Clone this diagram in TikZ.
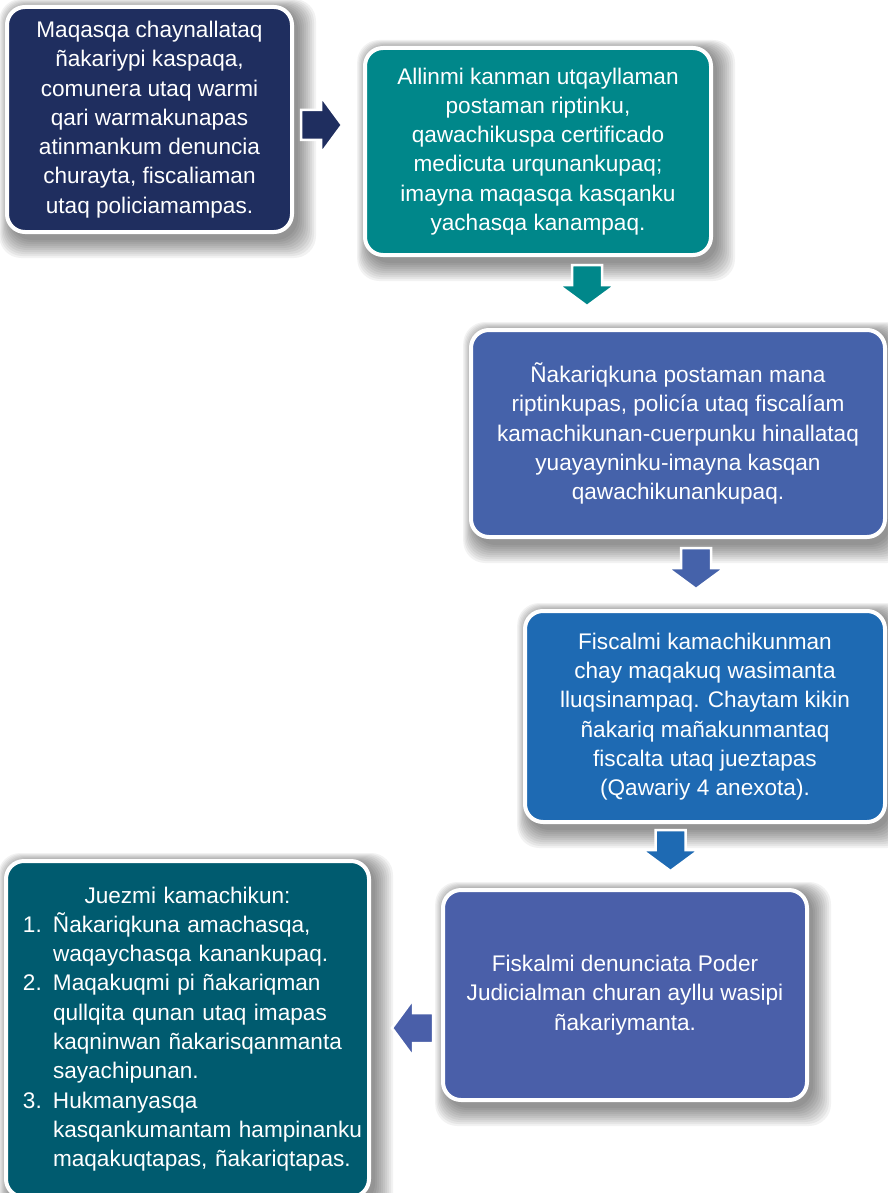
\documentclass[tikz,border=0pt]{standalone}
\usepackage{fontspec}
\setmainfont{Liberation Sans}
\usetikzlibrary{calc}
\pgfdeclarelayer{background}
\pgfsetlayers{background,main}
\definecolor{cNavy}{HTML}{1F2E5F}
\definecolor{cTeal}{HTML}{00878A}
\definecolor{cBlueA}{HTML}{4562AA}
\definecolor{cBlueB}{HTML}{1E6AB3}
\definecolor{cBlueC}{HTML}{4A5FA9}
\definecolor{cPetrol}{HTML}{005B6F}
\tikzset{
  box/.style={rounded corners=18pt, draw=white, line width=4pt, text=white,
    align=center, inner sep=0pt, font=\fontsize{22.6}{29.3}\selectfont},
  pics/barrow/.style={code={
    \fill[draw=white, line width=2.5pt, fill=#1]
      (0,-15) -- (20,-15) -- (20,-28.5) -- (41,0) -- (20,28.5) -- (20,15) -- (0,15) -- cycle;}}
}
\newcommand\softshadow[1]{%
  \begin{pgfonlayer}{background}
  \foreach \e in {0,2,...,18}{%
    \fill[black, opacity=0.05, rounded corners=22pt]
      ($(#1.north west)+(5-0.6*\e, 3-0.5*\e)$) rectangle ($(#1.south east)+(4+\e, 6+\e)$);}
  \end{pgfonlayer}}
\begin{document}
\begin{tikzpicture}[x=1pt, y=-1pt]
\useasboundingbox (0,0) rectangle (887,1193);
\begin{pgfonlayer}{background}
\fill[white] (0,0) rectangle (887,1193);
\end{pgfonlayer}

\node[box, fill=cNavy, minimum width=285pt, minimum height=225pt] (b1) at (149.5,119.5)
 {Maqasqa chaynallataq\\ñakariypi kaspaqa,\\comunera utaq warmi\\qari warmakunapas\\atinmankum denuncia\\churayta, fiscaliaman\\utaq policiamampas.};
\node[box, fill=cTeal, minimum width=346pt, minimum height=207pt] (b2) at (538,151.5)
 {Allinmi kanman utqayllaman\\postaman riptinku,\\qawachikuspa certificado\\medicuta urqunankupaq;\\imayna maqasqa kasqanku\\yachasqa kanampaq.};
\node[box, fill=cBlueA, minimum width=414pt, minimum height=207pt] (b3) at (678,433.5)
 {Ñakariqkuna postaman mana\\riptinkupas, policía utaq fiscalíam\\kamachikunan-cuerpunku hinallataq\\yuayayninku-imayna kasqan\\qawachikunankupaq.};
\node[box, fill=cBlueB, minimum width=360pt, minimum height=211pt] (b4) at (705,716.5)
 {Fiscalmi kamachikunman\\chay maqakuq wasimanta\\lluqsinampaq. Chaytam kikin\\ñakariq mañakunmantaq\\fiscalta utaq jueztapas\\(Qawariy 4 anexota).};
\node[box, fill=cBlueC, minimum width=364pt, minimum height=210pt] (b5) at (625,995)
 {Fiskalmi denunciata Poder\\Judicialman churan ayllu wasipi\\ñakariymanta.};
\node[box, fill=cPetrol, minimum width=363pt, minimum height=336pt, align=left, text width=360pt] (b6) at (187.5,1029)
 {\makebox[360pt][c]{Juezmi kamachikun:}\\
  \hspace*{15.5pt}\makebox[30pt][l]{1.}Ñakariqkuna amachasqa,\\
  \hspace*{45.5pt}waqaychasqa kanankupaq.\\
  \hspace*{15.5pt}\makebox[30pt][l]{2.}Maqakuqmi pi ñakariqman\\
  \hspace*{45.5pt}qullqita qunan utaq imapas\\
  \hspace*{45.5pt}kaqninwan ñakarisqanmanta\\
  \hspace*{45.5pt}sayachipunan.\\
  \hspace*{15.5pt}\makebox[30pt][l]{3.}Hukmanyasqa\\
  \hspace*{45.5pt}kasqankumantam hampinanku\\
  \hspace*{45.5pt}maqakuqtapas, ñakariqtapas.};

\softshadow{b1}\softshadow{b2}\softshadow{b3}\softshadow{b4}\softshadow{b5}\softshadow{b6}

\pic at (301,125) {barrow=cNavy};
\pic[rotate=-90] at (587,265) {barrow=cTeal};
\pic[rotate=-90] at (696,548) {barrow=cBlueA};
\pic[rotate=-90] at (670.5,830) {barrow=cBlueB};
\pic[rotate=180] at (433,1028) {barrow=cBlueC};
\end{tikzpicture}
\end{document}
